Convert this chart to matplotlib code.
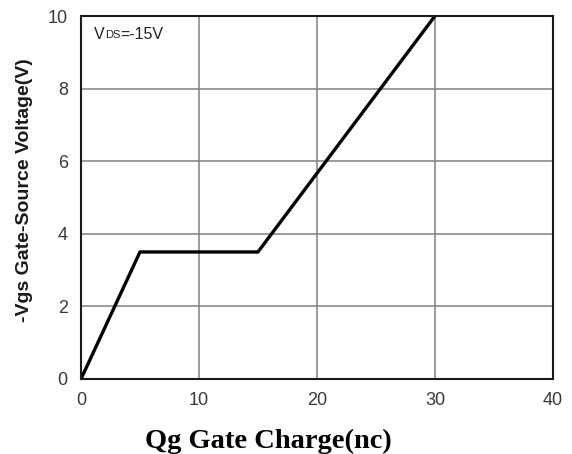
import matplotlib.pyplot as plt
from matplotlib import transforms

# gate charge curve (nC, V)
qg = [0, 5, 15, 30]
vgs = [0, 3.5, 3.5, 10]
xticks = [0, 10, 20, 30, 40]
yticks = [0, 2, 4, 6, 8, 10]

fig = plt.figure(figsize=(5.72, 4.54), dpi=100)
ax = fig.add_axes([0.1416, 0.1652, 0.825, 0.7995])

ax.plot(qg, vgs, color='black', lw=2.4, solid_capstyle='butt')
ax.set_xlim(0, 40)
ax.set_ylim(0, 10)
ax.set_xticks(xticks)
ax.set_yticks(yticks)
ax.grid(True, color='#808080', lw=1.1)
ax.set_axisbelow(True)
for s in ax.spines.values():
    s.set_color('#1a1a1a')
    s.set_linewidth(1.5)
ax.tick_params(length=0, labelsize=13, labelcolor='#3a3a3a', pad=9.5,
               labelfontfamily='Liberation Sans')

# axis titles placed on the figure
fig.text(25 / 572, 1 - 190 / 454, '-Vgs Gate-Source Voltage(V)', rotation=90,
         ha='center', va='center', fontfamily='Liberation Sans',
         fontweight='bold', fontsize=14, color='#1a1a1a')
fig.text(268 / 572, 1 - 448 / 454, 'Qg Gate Charge(nc)', ha='center', va='baseline',
         fontfamily='Liberation Serif', fontweight='bold', fontsize=20.5)

# VDS annotation, "DS" drawn smaller
t = ax.text(0.028, 0.97, 'V', transform=ax.transAxes, fontsize=11.5,
            fontfamily='Liberation Sans', va='top', color='#222222')
fig.canvas.draw()
ex = t.get_window_extent()
t2 = ax.text(0.028, 0.97, 'DS', fontsize=8, fontfamily='Liberation Sans',
             va='top', color='#222222',
             transform=transforms.offset_copy(ax.transAxes, fig=fig, x=ex.width, y=-3.5, units='dots'))
fig.canvas.draw()
ex2 = t2.get_window_extent()
ax.text(0.028, 0.97, '=-15V', fontsize=11.5, fontfamily='Liberation Sans',
        va='top', color='#222222',
        transform=transforms.offset_copy(ax.transAxes, fig=fig, x=ex.width + ex2.width, y=0, units='dots'))

plt.savefig('out.png', dpi=100)
